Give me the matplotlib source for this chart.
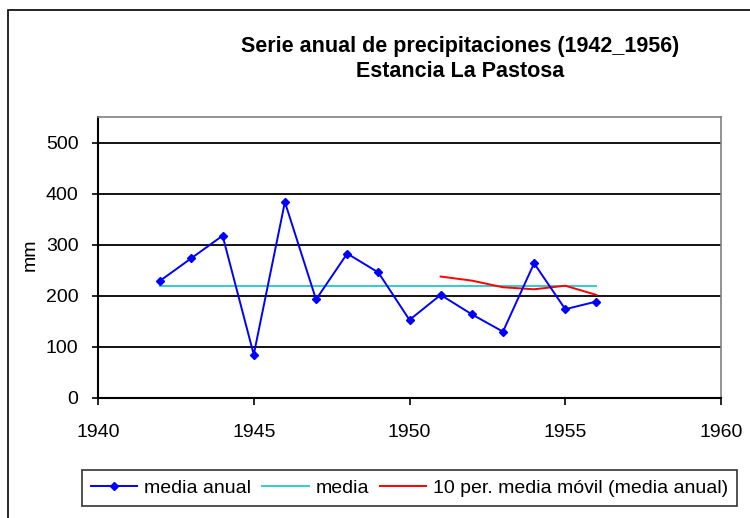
import matplotlib
matplotlib.use("Agg")
import matplotlib.pyplot as plt
from matplotlib.patches import Rectangle

plt.rcParams['font.family'] = ['Liberation Sans', 'DejaVu Sans']

years = [1942, 1943, 1944, 1945, 1946, 1947, 1948, 1949, 1950,
         1951, 1952, 1953, 1954, 1955, 1956]
media_anual = [230, 274, 318, 85, 384, 193, 283, 246, 153,
               202, 164, 130, 264, 174, 189]
media_years = [1942, 1956]
media_val = [220, 220]
mov_years = [1951, 1952, 1953, 1954, 1955, 1956]
mov_val = [238, 230, 217, 213, 220, 202]

title = "Serie anual de precipitaciones (1942_1956)\nEstancia La Pastosa"
ylabel = "mm"
labels = ["media anual", "media", "10 per. media móvil (media anual)"]

W, H = 750, 518
fig = plt.figure(figsize=(W / 100, H / 100), dpi=100)

# outer chart border (cropped on right/bottom)
fig.patches.append(Rectangle((8 / W, -0.1), 1.2, 1 - 10 / H + 0.1,
                             transform=fig.transFigure, fill=False,
                             edgecolor='black', linewidth=1.2))

left, right, top, bottom = 98, 721, 117.3, 398
ax = fig.add_axes([left / W, 1 - bottom / H, (right - left) / W, (bottom - top) / H])

ax.plot(years, media_anual, color='#0000FF', marker='D', markersize=4.5,
        linewidth=1.4, label=labels[0], zorder=4)
ax.plot(media_years, media_val, color='#33CCCC', linewidth=1.4,
        label=labels[1], zorder=3)
ax.plot(mov_years, mov_val, color='#FF0000', linewidth=1.4,
        label=labels[2], zorder=3)

ax.set_xlim(1940, 1960)
ax.set_ylim(0, 550)
ax.set_xticks(range(1940, 1961, 5))
ax.set_yticks(range(0, 501, 100))
ax.yaxis.grid(True, color='black', linewidth=1.3)
ax.set_axisbelow(True)

for s in ['top', 'right']:
    ax.spines[s].set_color('#808080')
    ax.spines[s].set_linewidth(1.2)
for s in ['left', 'bottom']:
    ax.spines[s].set_color('black')
    ax.spines[s].set_linewidth(1.5)

ax.tick_params(axis='y', direction='out', length=4, width=1.2, pad=10, labelsize=14)
ax.tick_params(axis='x', direction='out', length=5, width=1.2, pad=14, labelsize=14)

fig.text(30 / W, 1 - 255 / H, ylabel, rotation=90, ha='center', va='center', fontsize=14)

fig.text(460 / W, 1 - 59 / H, title, ha='center', va='center',
         fontsize=15.5, fontweight='bold', linespacing=1.3)

leg = fig.legend(loc='center', bbox_to_anchor=((83 + 736) / 2 / W, 1 - 488 / H),
                 ncol=3, frameon=True, fancybox=False, fontsize=14,
                 handlelength=2.4, handletextpad=0.35, columnspacing=0.55,
                 borderpad=0.45, borderaxespad=0)
leg.get_frame().set_edgecolor('black')
leg.get_frame().set_linewidth(1.2)

fig.savefig("out.png", dpi=100)
